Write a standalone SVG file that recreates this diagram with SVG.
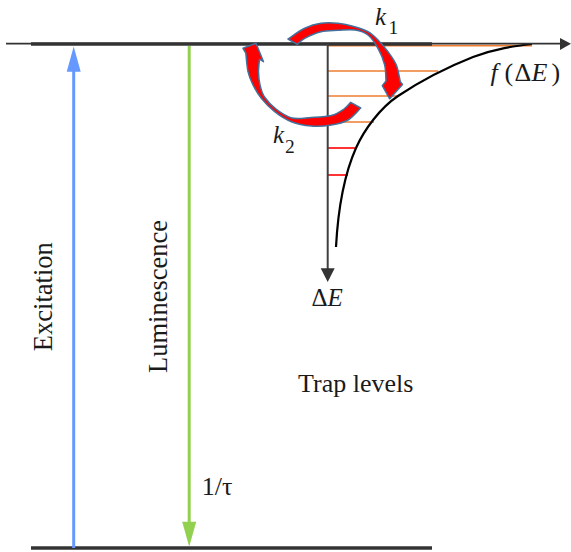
<svg xmlns="http://www.w3.org/2000/svg" width="571" height="552" viewBox="0 0 571 552">
  <style>
    .t { font-family: "Liberation Serif", "Times New Roman", serif; fill: #1a1a1a; }
    .lvl { stroke: #333333; stroke-width: 3.6; fill: none; }
    .orange { stroke: #ed7d31; stroke-width: 1.6; }
    .red { stroke: #ff0000; stroke-width: 1.6; }
    .rate { fill: #ff0000; stroke: #41719c; stroke-width: 1.5; stroke-linejoin: round; }
  </style>
  <rect width="571" height="552" fill="#ffffff"/>

  <g id="trap-distribution">
    <line class="orange" x1="328" y1="45.6" x2="532" y2="45.6"/>
    <line class="orange" x1="328" y1="71" x2="438" y2="71"/>
    <line class="orange" x1="328" y1="96" x2="399" y2="96"/>
    <line class="orange" x1="328" y1="122" x2="374" y2="122"/>
    <line class="red" x1="328" y1="148" x2="357" y2="148"/>
    <line class="red" x1="328" y1="175" x2="348" y2="175"/>
    <path d="M336,247 C338,210 344,175 356,148 C364,130 380,108 398,96 C416,84 440,70 473,57 C495,48.5 515,46 532,44" fill="none" stroke="#000000" stroke-width="2.2"/>
  </g>

  <g id="f-axis">
    <line x1="6" y1="43.7" x2="561" y2="43.7" stroke="#333333" stroke-width="1.8"/>
    <polygon points="560,38 571,43.8 560,50" fill="#333333"/>
  </g>

  <g id="excited-level">
    <line class="lvl" x1="31" y1="44" x2="432" y2="44"/>
  </g>

  <g id="ground-level">
    <line class="lvl" x1="31" y1="548" x2="432" y2="548"/>
  </g>

  <g id="dE-axis">
    <line x1="327.7" y1="44" x2="327.7" y2="270" stroke="#404040" stroke-width="2"/>
    <polygon points="320.7,268.3 334.7,268.3 327.7,282" fill="#333333"/>
    <text class="t" y="305.7" font-size="25"><tspan x="311.5">Δ</tspan><tspan font-style="italic">E</tspan></text>
  </g>

  <g id="connectors">
    <g id="excitation">
      <line x1="73.7" y1="548" x2="73.7" y2="70" stroke="#6699ff" stroke-width="3"/>
      <polygon points="66.7,71.7 73.7,46.5 80.7,71.7" fill="#6699ff"/>
    </g>
    <g id="luminescence">
      <line x1="189.2" y1="46" x2="189.2" y2="523" stroke="#92d050" stroke-width="3"/>
      <polygon points="182.2,521.7 196.2,521.7 189.2,546.7" fill="#92d050"/>
    </g>
    <g id="k1-arrow">
      <path class="rate" d="M288,39 C290.8,37.2 299.2,30.9 304.7,28.3 C310.2,25.7 315.45,24.1 321,23.3 C326.55,22.5 332.4,22.7 338,23.3 C343.6,23.9 349.7,25.3 354.7,26.7 C359.7,28.1 364.1,29.5 368,31.7 C371.9,33.9 374.7,36.7 378,40 C381.3,43.3 384.95,47.5 388,51.7 C391.05,55.9 394.25,60 396.3,65 C398.35,70 399.6,78.9 400.3,81.7 L402.5,84.5 L389.7,98.8 L382.3,85.6 L386,81 C385.8,78.3 386,70.45 384.7,65 C383.4,59.55 380.8,53.3 378,48.3 C375.2,43.3 371.8,38.05 368,35 C364.2,31.950 360,30.8 355,30 C350,29.2 343.7,30 338,30.3 C332.3,30.6 326.55,30.4 321,31.7 C315.45,33 308.65,36.2 304.7,38.3 C300.75,40.4 298.5,43.3 297.3,44.3 Z"/>
    </g>
    <g id="k2-arrow">
      <path class="rate" d="M360.7,108 C358.6,110 352.9,117.2 348,120 C343.1,122.8 337.4,124 331.3,125 C325.2,126 318,126.55 311.3,126 C304.6,125.45 297.4,124.1 291.3,121.7 C285.2,119.3 279.7,115.6 274.7,111.7 C269.7,107.8 264.9,102.75 261.3,98.3 C257.7,93.85 255.2,89.4 253,85 C250.8,80.6 249.2,77 248,71.7 C246.8,66.4 246.2,56.1 245.8,53 L243,48.3 L256,43.3 L263.5,61.7 L259.5,59.2 C259.3,61.3 258.4,67.7 258.5,72 C258.6,76.3 259,80.8 260,85 C261,89.2 261.8,93 264.5,97 C267.2,101 271.4,105.5 276,109 C280.6,112.5 286.1,116.6 292,118 C297.9,119.4 304.75,117.9 311.3,117.5 C317.85,117.1 325.850,116.9 331.3,115.5 C336.75,114.1 340.8,111.2 344,109 C347.2,106.8 349.6,103.4 350.7,102.3 Z"/>
    </g>
  </g>

  <g id="labels">
    <text class="t" font-size="26.5" text-anchor="middle" transform="translate(51.5,296.7) rotate(-90)">Excitation</text>
    <text class="t" font-size="26.5" text-anchor="middle" transform="translate(166.5,296.5) rotate(-90)">Luminescence</text>
    <text class="t" x="298" y="391.5" font-size="26">Trap levels</text>
    <text class="t" x="201.7" y="495" font-size="26">1/τ</text>
    <text class="t" y="81" font-size="26"><tspan x="490.5" font-style="italic">f</tspan><tspan x="504.5">(</tspan><tspan x="514.5">Δ</tspan><tspan x="531.5" font-style="italic">E</tspan><tspan x="551.5">)</tspan></text>
    <text class="t" y="25" font-size="25"><tspan x="375" font-style="italic">k</tspan><tspan x="388.5" y="33.5" font-size="19.5">1</tspan></text>
    <text class="t" y="143.3" font-size="25"><tspan x="273" font-style="italic">k</tspan><tspan x="285" y="152.7" font-size="19.5">2</tspan></text>
  </g>
</svg>
